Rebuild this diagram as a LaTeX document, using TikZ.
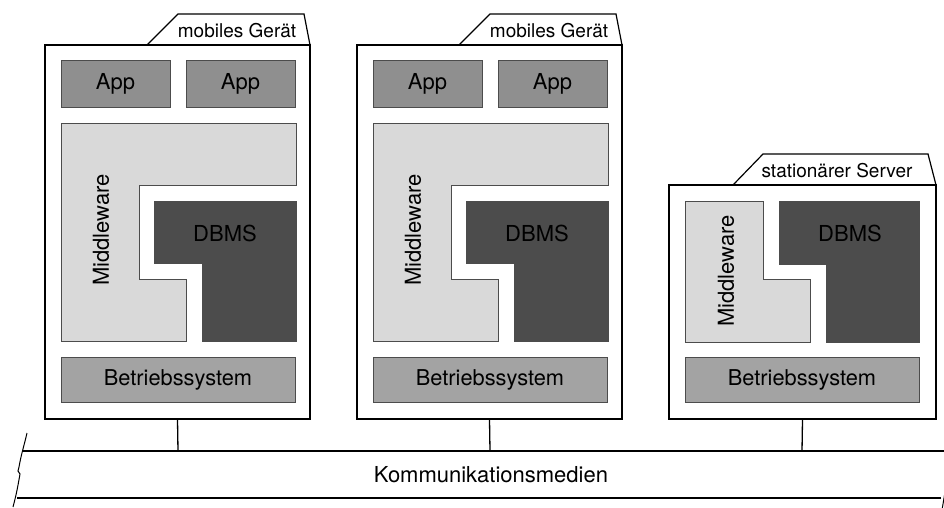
\documentclass[tikz,border=0pt]{standalone}
\usepackage{fontspec}
\setmainfont{TeX Gyre Heros}
\begin{document}
\begin{tikzpicture}[x=1pt,y=-1pt,
  outer/.style={draw=black,line width=1.2pt,fill=white,line join=miter},
  tabline/.style={draw=black,line width=1.2pt},
  inner/.style={draw=black!70,line width=0.8pt},
  appbox/.style={inner,fill=black!44,minimum width=109pt,minimum height=47pt,inner sep=0pt,font=\fontsize{22}{26}\selectfont},
  osbox/.style={inner,fill=black!36,minimum width=234pt,minimum height=45pt,inner sep=0pt,font=\fontsize{21.8}{26}\selectfont},
  mwfill/.style={inner,fill=black!15},
  dbfill/.style={inner,fill=black!70},
  lbl/.style={inner sep=0pt,font=\fontsize{22}{26}\selectfont},
  tablbl/.style={inner sep=0pt,font=\fontsize{19}{23}\selectfont},
  conn/.style={draw=black,line width=1.3pt}
]
\useasboundingbox (0,0) rectangle (944,507);

% ---------- device 1 ----------
\draw[tabline,fill=white] (147,45) -- (178,14) -- (304,14) -- (310,45);
\node[tablbl] (t1) at (237,31) {mobiles Gerät};
\node[outer,minimum width=265pt,minimum height=374pt,inner sep=0pt] (d1) at (177.5,232) {};
\node[appbox] (a11) at (115.5,83.5) {App};
\node[appbox] (a12) at (240.5,83.5) {App};
\draw[mwfill] (61,123) -- (296,123) -- (296,185) -- (139,185) -- (139,279) -- (186,279) -- (186,341) -- (61,341) -- cycle;
\draw[dbfill] (154,201) -- (296,201) -- (296,341) -- (202,341) -- (202,263) -- (154,263) -- cycle;
\node[lbl,rotate=90] (m1) at (101,230) {Middleware};
\node[lbl] (db1) at (225,233) {DBMS};
\node[osbox] (os1) at (178,379.5) {Betriebssystem};

% ---------- device 2 ----------
\draw[tabline,fill=white] (459,45) -- (490,14) -- (616,14) -- (622,45);
\node[tablbl] (t2) at (549,31) {mobiles Gerät};
\node[outer,minimum width=265pt,minimum height=374pt,inner sep=0pt] (d2) at (489.5,232) {};
\node[appbox] (a21) at (427.5,83.5) {App};
\node[appbox] (a22) at (552.5,83.5) {App};
\draw[mwfill] (373,123) -- (608,123) -- (608,185) -- (451,185) -- (451,279) -- (498,279) -- (498,341) -- (373,341) -- cycle;
\draw[dbfill] (466,201) -- (608,201) -- (608,341) -- (514,341) -- (514,263) -- (466,263) -- cycle;
\node[lbl,rotate=90] (m2) at (413,230) {Middleware};
\node[lbl] (db2) at (537,233) {DBMS};
\node[osbox] (os2) at (490,379.5) {Betriebssystem};

% ---------- server ----------
\draw[tabline,fill=white] (733,185) -- (763,154) -- (928,154) -- (936,185);
\node[tablbl] (t3) at (837,171) {stationärer Server};
\node[outer,minimum width=267pt,minimum height=234pt,inner sep=0pt] (s) at (802.5,302) {};
\draw[mwfill] (685,201) -- (763,201) -- (763,279) -- (810,279) -- (810,342) -- (685,342) -- cycle;
\draw[dbfill] (779,201) -- (919,201) -- (919,342) -- (826,342) -- (826,264) -- (779,264) -- cycle;
\node[lbl,rotate=90] (m3) at (726,271) {Middleware};
\node[lbl] (db3) at (850,233) {DBMS};
\node[osbox] (os3) at (802,379.5) {Betriebssystem};

% ---------- bus ----------
\coordinate (b1) at (178,451);
\coordinate (b2) at (490,451);
\coordinate (b3) at (802,451);
\coordinate (bl) at (23,451);
\coordinate (br) at (946,451);
\coordinate (bbl) at (17,498);
\coordinate (bbr) at (941,498);
\draw[conn] (bl) -- (br);
\draw[conn] (bbl) -- (bbr);
\draw[conn] (d1.south) -- (b1);
\draw[conn] (d2.south) -- (b2);
\draw[conn] (s.south) -- (b3);
\node[lbl] (bus) at (491,475) {Kommunikationsmedien};
% break marks
\draw[line width=1pt] (27,433) to[out=-103,in=80] (19,467) -- (18,471) -- (20,474) to[out=-100,in=75] (13,507);
\draw[line width=1pt] (945,492) -- (942,510);
\end{tikzpicture}
\end{document}
